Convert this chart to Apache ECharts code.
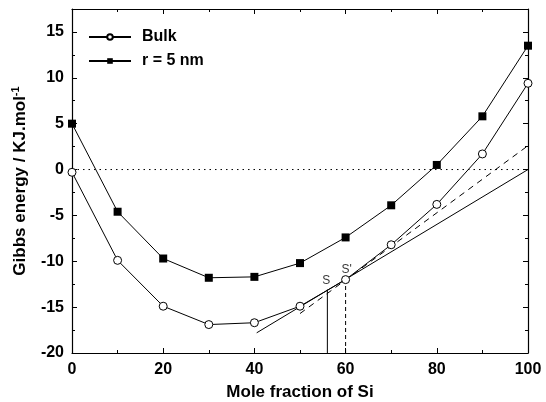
<!DOCTYPE html>
<html>
<head>
<meta charset="utf-8">
<script src="https://cdn.jsdelivr.net/npm/echarts@6/dist/echarts.min.js"></script>
<style>
  html, body { margin: 0; padding: 0; background: #fff; }
  #chart { width: 546px; height: 402px; }
</style>
</head>
<body>
<div id="chart"></div>
<script>
// Mole fraction of Si (%)
const molFraction = [0, 10, 20, 30, 40, 50, 60, 70, 80, 90, 100];
// Gibbs energy (kJ/mol)
const bulkEnergy = [-0.3, -9.9, -14.9, -16.9, -16.7, -14.9, -12.0, -8.2, -3.8, 1.7, 9.4];
const nanoEnergy = [5.0, -4.6, -9.7, -11.8, -11.7, -10.2, -7.4, -3.9, 0.5, 5.8, 13.5];
// Common tangent constructions
const tangentSolid = [[40.5, -17.8], [100, 0]];
const tangentDashed = [[50, -15.7], [100, 2.6]];
const pointS = 56;
const pointSPrime = 60;
const yFloor = -20;
const yS = -13.1;
const ySPrime = -12.0;
const zeroLine = [[0, 0], [100, 0]];

const pairs = (xs, ys) => xs.map((x, i) => [x, ys[i]]);
const font = 'Liberation Sans, Arial, sans-serif';

const chart = echarts.init(document.getElementById('chart'));
const thin = { color: '#000', width: 1 };

function frameAxis(extra) {
  return Object.assign({
    type: 'value',
    axisLine: { onZero: false, lineStyle: { color: '#000', width: 1.2 } },
    axisTick: { inside: true, length: 5, lineStyle: { color: '#000' } },
    minorTick: { show: true, splitNumber: 2, length: 3, lineStyle: { color: '#000' } },
    splitLine: { show: false }
  }, extra);
}
const tickFont = { fontFamily: font, fontWeight: 'bold', fontSize: 16, color: '#000' };

chart.setOption({
  animation: false,
  backgroundColor: '#fff',
  grid: { left: 72, right: 18, top: 9, bottom: 49, containLabel: false, outerBoundsMode: 'none' },
  legend: {
    left: 83, top: 24, orient: 'vertical',
    itemWidth: 42, itemHeight: 7, itemGap: 8,
    data: ['Bulk', 'r = 5 nm'],
    textStyle: { fontFamily: font, fontWeight: 'bold', fontSize: 16, color: '#000', padding: [0, 0, 0, 6] }
  },
  xAxis: [
    frameAxis({
      min: 0, max: 100, interval: 20, position: 'bottom',
      name: 'Mole fraction of Si', nameLocation: 'middle', nameGap: 31,
      nameTextStyle: { fontFamily: font, fontWeight: 'bold', fontSize: 17, color: '#000' },
      axisLabel: Object.assign({ margin: 9 }, tickFont)
    }),
    frameAxis({ min: 0, max: 100, interval: 20, position: 'top', axisLabel: { show: false } })
  ],
  yAxis: [
    frameAxis({
      min: -20, max: 17.5, interval: 5, position: 'left',
      name: '{a|Gibbs energy / KJ.mol}{s|-1}', nameLocation: 'middle', nameGap: 42,
      nameTextStyle: {
        rich: {
          a: { fontFamily: font, fontWeight: 'bold', fontSize: 17, color: '#000' },
          s: { fontFamily: font, fontWeight: 'bold', fontSize: 11, color: '#000', verticalAlign: 'top', padding: [0, 0, 9, 0] }
        }
      },
      axisLabel: Object.assign({ margin: 8, showMaxLabel: false }, tickFont)
    }),
    frameAxis({ min: -20, max: 17.5, interval: 5, position: 'right', axisLabel: { show: false } })
  ],
  series: [
    {
      name: 'zero', type: 'line', data: zeroLine, showSymbol: false, silent: true,
      lineStyle: { color: '#000', width: 1, type: [1.5, 4] }
    },
    {
      name: 'tangent', type: 'line', data: tangentSolid, showSymbol: false, silent: true,
      lineStyle: thin
    },
    {
      name: 'tangent2', type: 'line', data: tangentDashed, showSymbol: false, silent: true,
      lineStyle: { color: '#000', width: 1, type: [6, 5] }
    },
    {
      name: 'S', type: 'line', data: [[pointS, yFloor], [pointS, yS]], showSymbol: false, silent: true,
      lineStyle: thin
    },
    {
      name: "S'", type: 'line', data: [[pointSPrime, yFloor], [pointSPrime, ySPrime]], showSymbol: false, silent: true,
      lineStyle: { color: '#000', width: 1, type: [4, 3] }
    },
    {
      name: 'Bulk', type: 'line', data: pairs(molFraction, bulkEnergy), z: 5,
      symbol: 'circle', symbolSize: 8,
      itemStyle: { color: '#fff', borderColor: '#000', borderWidth: 1 },
      lineStyle: thin
    },
    {
      name: 'r = 5 nm', type: 'line', data: pairs(molFraction, nanoEnergy), z: 5,
      symbol: 'rect', symbolSize: 8,
      itemStyle: { color: '#000', borderColor: '#000', borderWidth: 0 },
      lineStyle: thin
    },
    {
      name: 'labelS', type: 'scatter', data: [[pointS, yS]], symbolSize: 0, silent: true,
      label: { show: true, formatter: 'S', position: 'top', distance: 3, offset: [-1, 0], fontFamily: font, fontSize: 12, color: '#000' }
    },
    {
      name: 'labelSp', type: 'scatter', data: [[pointSPrime, ySPrime]], symbolSize: 0, silent: true,
      label: { show: true, formatter: "S'", position: 'top', distance: 4, offset: [1, 0], fontFamily: font, fontSize: 12, color: '#000' }
    }
  ]
});
</script>
</body>
</html>
